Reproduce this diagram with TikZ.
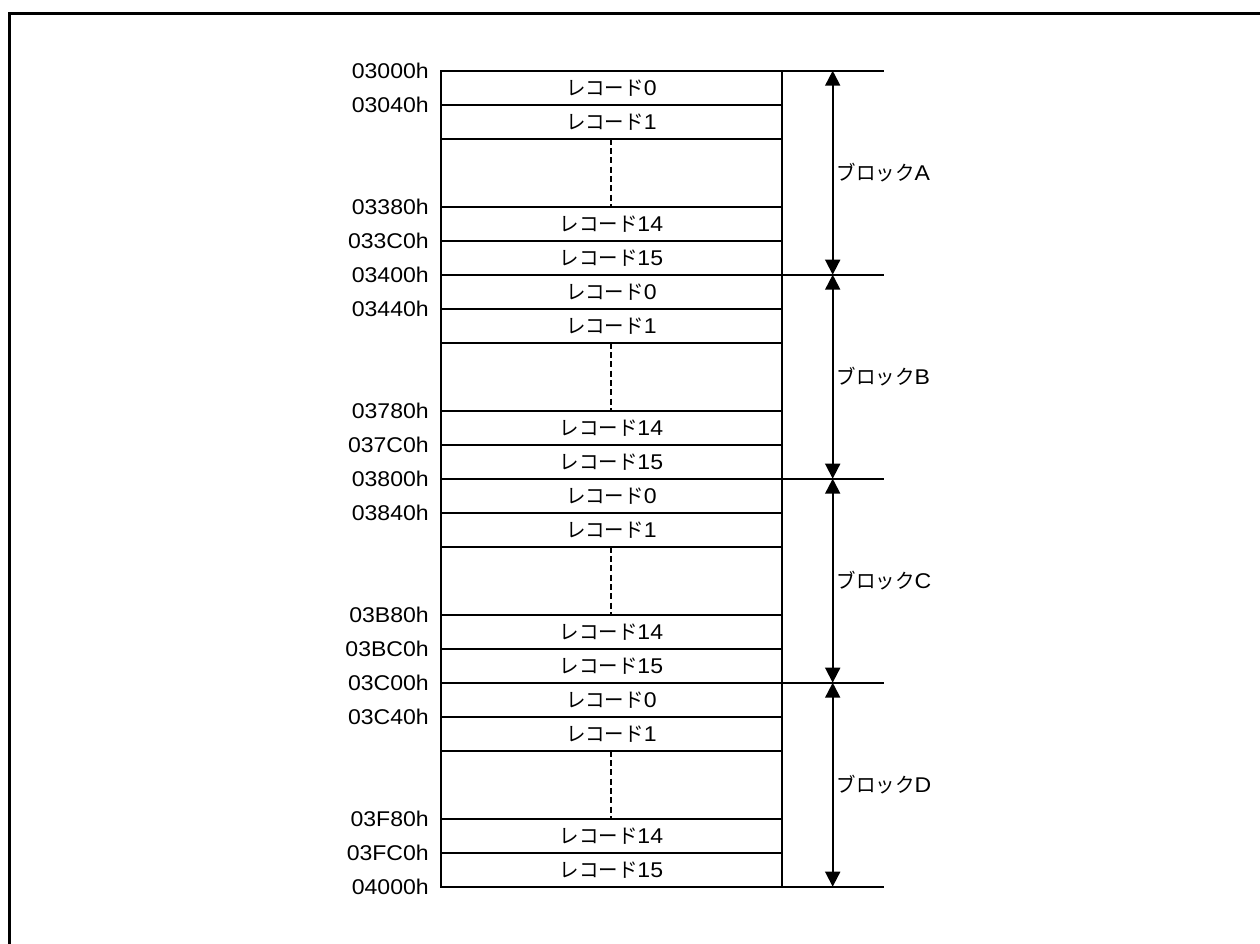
\documentclass[tikz,border=0pt]{standalone}
\usepackage{fontspec}
\setmainfont[FakeStretch=1.08]{Liberation Sans}
\newfontfamily\jp[FakeStretch=0.96]{Noto Sans CJK JP}
\usetikzlibrary{arrows.meta}
\begin{document}
\begin{tikzpicture}[x=0.75pt,y=-0.75pt,
  txt/.style={font=\fontsize{16}{19}\selectfont},
  rec/.style={draw, line width=1.4pt, minimum width=255.5pt, minimum height=25.5pt, inner sep=0pt, outer sep=0pt, txt},
  gap/.style={draw, line width=1.4pt, minimum width=255.5pt, minimum height=51pt, inner sep=0pt, outer sep=0pt},
  addr/.style={anchor=east, inner sep=0pt, txt},
  ext/.style={line width=1.4pt},
  dots/.style={line width=1.5pt, dash pattern=on 4.5pt off 2.5pt},
  span/.style={line width=1.4pt, {Triangle[width=11.25pt,length=11.25pt]}-{Triangle[width=11.25pt,length=11.25pt]}},
  blk/.style={anchor=west, inner sep=0pt, txt},
  frame/.style={line width=2.25pt, line join=miter}]
\useasboundingbox (0,0) rectangle (1260,944);
\coordinate (fa) at (9.5,950);
\coordinate (fb) at (9.5,13.5);
\coordinate (fc) at (1265,13.5);
\draw[frame] (fa) -- (fb) -- (fc);
\newcommand\jpt[1]{{\jp\fontsize{15.2}{19}\selectfont #1}}
\foreach \b/\L/\aa/\ab/\ac/\ad in {0/A/03000h/03040h/03380h/033C0h,1/B/03400h/03440h/03780h/037C0h,2/C/03800h/03840h/03B80h/03BC0h,3/D/03C00h/03C40h/03F80h/03FC0h}{
  \pgfmathsetmacro\t{70.7+204*\b}
  \node[rec] (r0\L) at (611.35,\t+17) {\jpt{レコード}0};
  \node[rec] (r1\L) at (611.35,\t+51) {\jpt{レコード}1};
  \node[gap] (g\L) at (611.35,\t+102) {};
  \node[rec] (r14\L) at (611.35,\t+153) {\jpt{レコード}14};
  \node[rec] (r15\L) at (611.35,\t+187) {\jpt{レコード}15};
  \draw[dots] (r1\L.south) -- (r14\L.north);
  \node[addr] (a0\L) at (429,\t) {\aa};
  \node[addr] (a1\L) at (429,\t+34) {\ab};
  \node[addr] (a14\L) at (429,\t+136) {\ac};
  \node[addr] (a15\L) at (429,\t+170) {\ad};
  \coordinate (e\L) at (884,\t);
  \draw[ext] (r0\L.north east) -- (e\L);
  \coordinate (at\L) at (832.7,\t);
  \coordinate (ab\L) at (832.7,\t+204);
  \draw[span] (at\L) -- (ab\L);
  \node[blk] (bl\L) at (836.5,\t+102) {\jpt{ブロック}\L};
}
\node[addr] (aend) at (429,886.7) {04000h};
\coordinate (eend) at (884,886.7);
\draw[ext] (r15D.south east) -- (eend);
\end{tikzpicture}
\end{document}
